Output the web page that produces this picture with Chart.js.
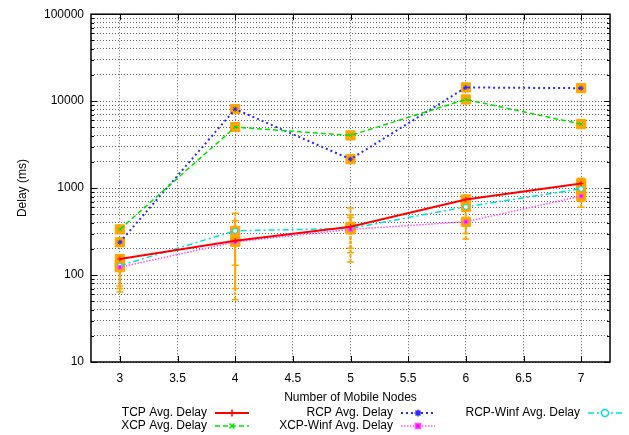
<!DOCTYPE html>
<html lang="en">
<head>
  <meta charset="UTF-8">
  <title>Average Delay vs Number of Mobile Nodes</title>
  <script src="https://cdn.jsdelivr.net/npm/chart.js"></script>
  <style>
    body {
      margin: 0;
      background: #fff;
    }
    canvas {
      display: block;
    }
  </style>
</head>
<body>
  <canvas id="delayChart" width="629" height="435"></canvas>

  <script>
    // mobile node counts (x) and average delay per protocol in ms (y, log)
    const nodes = [3, 4, 5, 6, 7];
    const tcpDelay = [153, 248, 359, 741, 1133];
    const xcpDelay = [335, 5030, 4035, 10460, 5440];
    const rcpDelay = [238, 8090, 2150, 14370, 14100];
    const xcpWinfDelay = [123, 241, 335, 410, 809];
    const rcpWinfDelay = [128, 323, 344, 609, 982];

    // error ranges for the three low-delay protocols
    const tcpErrLow = [75, 130, 180, 560, 1000];
    const tcpErrHigh = [170, 515, 590, 810, 1300];
    const rcpWinfErrLow = [64, 52, 141, 300, 700];
    const rcpWinfErrHigh = [150, 420, 490, 700, 1150];
    const xcpWinfErrLow = [70, 70, 204, 259, 604];
    const xcpWinfErrHigh = [140, 330, 460, 560, 950];

    const xTicks = [3, 3.5, 4, 4.5, 5, 5.5, 6, 6.5, 7];
    const yDecades = [10, 100, 1000, 10000, 100000];

    const FONT = '"Liberation Sans", Arial, Helvetica, sans-serif';
    const ORANGE = '#ffa500';

    const series = [
      { label: 'TCP Avg. Delay', data: tcpDelay, color: '#ff0000', width: 2, dash: [], point: 'cross', fill: '#ff0000' },
      { label: 'XCP Avg. Delay', data: xcpDelay, color: '#00e000', width: 1.5, dash: [5, 3], point: 'crossRot', fill: '#00e000' },
      { label: 'RCP Avg. Delay', data: rcpDelay, color: '#2a2aff', width: 2, dash: [2, 3], point: 'star', fill: '#2a2aff' },
      { label: 'XCP-Winf Avg. Delay', data: xcpWinfDelay, color: '#ff50ff', width: 1.5, dash: [1.5, 1.5], point: 'rect', fill: '#ff00ff' },
      { label: 'RCP-Winf Avg. Delay', data: rcpWinfDelay, color: '#00dede', width: 1.5, dash: [6, 3, 2, 3], point: 'circle', fill: '#ffffff' }
    ];

    const errorBars = [
      { low: tcpErrLow, high: tcpErrHigh },
      { low: rcpWinfErrLow, high: rcpWinfErrHigh },
      { low: xcpWinfErrLow, high: xcpWinfErrHigh }
    ];

    function toPoints(values) {
      return nodes.map((x, i) => ({ x: x, y: values[i] }));
    }

    function errorBarData(low, high) {
      const pts = [];
      nodes.forEach((x, i) => {
        pts.push({ x: x, y: low[i] }, { x: x, y: high[i] }, { x: x, y: null });
      });
      return pts;
    }

    function yTickValues() {
      const vals = [];
      for (let d = 0; d < yDecades.length - 1; d++) {
        for (let m = 1; m < 10; m++) vals.push(yDecades[d] * m);
      }
      vals.push(yDecades[yDecades.length - 1]);
      return vals;
    }

    const datasets = [];

    errorBars.forEach(e => {
      datasets.push({
        data: errorBarData(e.low, e.high),
        borderColor: ORANGE,
        backgroundColor: ORANGE,
        borderWidth: 2,
        borderDash: [3, 1.5],
        pointStyle: 'line',
        pointRadius: 3.5,
        pointBorderWidth: 1.5,
        spanGaps: false,
        order: 30
      });
    });

    series.forEach(s => {
      datasets.push({
        data: toPoints(s.data),
        showLine: false,
        pointStyle: 'rect',
        pointRadius: 6.5,
        backgroundColor: ORANGE,
        borderColor: ORANGE,
        pointBorderWidth: 1,
        order: 20
      });
    });

    series.forEach(s => {
      datasets.push({
        label: s.label,
        data: toPoints(s.data),
        borderColor: s.color,
        borderWidth: s.width,
        borderDash: s.dash,
        pointStyle: s.point,
        pointRadius: 2.5,
        pointBorderWidth: 1,
        pointBorderColor: s.color,
        pointBackgroundColor: s.fill,
        tension: 0,
        order: 10
      });
    });

    // border box plus inward tick marks on all four sides
    const framePlugin = {
      id: 'frame',
      beforeDatasetsDraw(chart) {
        const { ctx, chartArea: a, scales } = chart;
        ctx.save();
        ctx.strokeStyle = '#000';
        ctx.lineWidth = 1;
        ctx.setLineDash([]);
        ctx.beginPath();
        scales.x.ticks.forEach(t => {
          const px = Math.round(scales.x.getPixelForValue(t.value)) + 0.5;
          ctx.moveTo(px, a.bottom);
          ctx.lineTo(px, a.bottom - 6);
          ctx.moveTo(px, a.top);
          ctx.lineTo(px, a.top + 6);
        });
        scales.y.ticks.forEach(t => {
          const len = yDecades.includes(t.value) ? 6 : 3;
          const py = Math.round(scales.y.getPixelForValue(t.value)) + 0.5;
          ctx.moveTo(a.left, py);
          ctx.lineTo(a.left + len, py);
          ctx.moveTo(a.right, py);
          ctx.lineTo(a.right - len, py);
        });
        ctx.stroke();
        ctx.lineWidth = 1.5;
        ctx.strokeRect(a.left, a.top, a.right - a.left, a.bottom - a.top);
        ctx.restore();
      }
    };

    // gnuplot style key: right aligned text followed by a line sample
    const keyColumns = [207, 393, 580];
    const keyRows = [413, 426];

    const keyPlugin = {
      id: 'keyBox',
      afterDraw(chart) {
        const ctx = chart.ctx;
        ctx.save();
        ctx.font = '12px ' + FONT;
        ctx.textAlign = 'right';
        ctx.textBaseline = 'middle';
        series.forEach((s, i) => {
          const tx = keyColumns[Math.floor(i / 2)];
          const ty = keyRows[i % 2];
          ctx.fillStyle = '#000';
          ctx.fillText(s.label, tx, ty);
          const x0 = tx + 8, x1 = tx + 42;
          ctx.strokeStyle = s.color;
          ctx.lineWidth = s.width;
          ctx.setLineDash(s.dash);
          ctx.beginPath();
          ctx.moveTo(x0, ty);
          ctx.lineTo(x1, ty);
          ctx.stroke();
          ctx.setLineDash([]);
          if (Chart.helpers && Chart.helpers.drawPoint) {
            ctx.fillStyle = s.fill;
            ctx.lineWidth = 1.5;
            Chart.helpers.drawPoint(ctx, { pointStyle: s.point, radius: 3.5, rotation: 0, borderWidth: 1.5 }, (x0 + x1) / 2, ty);
          }
        });
        ctx.restore();
      }
    };

    Chart.defaults.font.family = FONT;
    Chart.defaults.font.size = 12;
    Chart.defaults.color = '#000';

    const gridStyle = {
      color: 'rgba(0,0,0,0.62)',
      lineWidth: 1,
      drawTicks: false
    };

    new Chart(document.getElementById('delayChart'), {
      type: 'line',
      data: { datasets },
      options: {
        responsive: false,
        animation: false,
        events: [],
        layout: { padding: { top: 14, right: 19, left: 0, bottom: 0 } },
        plugins: {
          legend: { display: false },
          tooltip: { enabled: false }
        },
        scales: {
          x: {
            type: 'linear',
            min: 2.75,
            max: 7.25,
            afterBuildTicks: scale => { scale.ticks = xTicks.map(v => ({ value: v })); },
            afterFit: scale => { scale.height = 73; },
            ticks: {
              padding: 9,
              autoSkip: false,
              maxRotation: 0,
              callback: v => String(v)
            },
            grid: gridStyle,
            border: { display: false, dash: [1, 2] },
            title: {
              display: true,
              text: 'Number of Mobile Nodes',
              padding: { top: 0, bottom: 30 }
            }
          },
          y: {
            type: 'logarithmic',
            min: 10,
            max: 100000,
            afterBuildTicks: scale => { scale.ticks = yTickValues().map(v => ({ value: v })); },
            afterFit: scale => { scale.width = 91; },
            ticks: {
              padding: 7,
              autoSkip: false,
              callback: v => (yDecades.includes(v) ? String(v) : '')
            },
            grid: gridStyle,
            border: { display: false, dash: [1, 2] },
            title: {
              display: true,
              text: 'Delay (ms)',
              padding: { top: 15, bottom: 0 }
            }
          }
        }
      },
      plugins: [framePlugin, keyPlugin]
    });
  </script>
</body>
</html>
